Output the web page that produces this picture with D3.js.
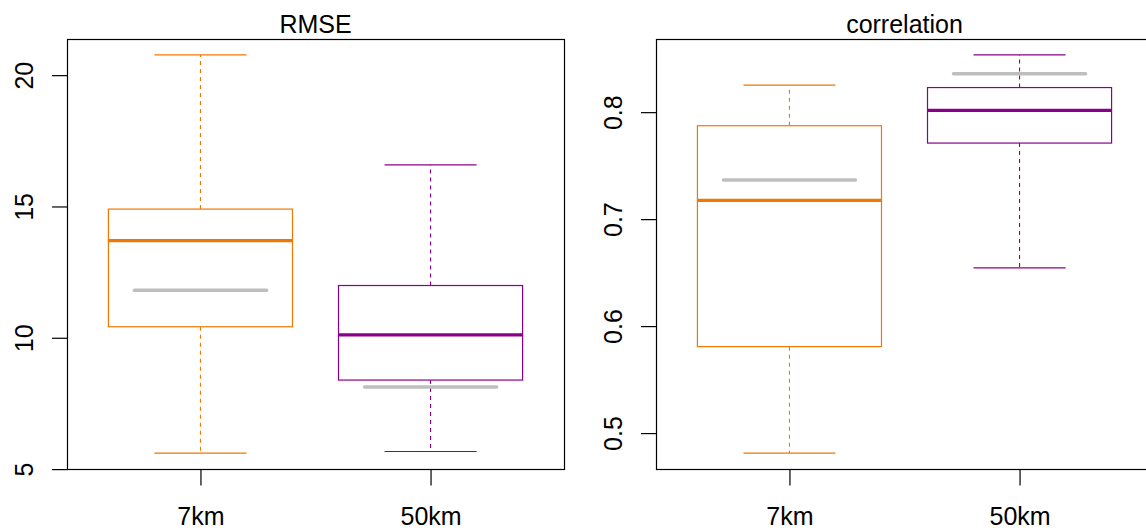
<!DOCTYPE html>
<html>
<head>
<meta charset="utf-8">
<script src="https://cdn.jsdelivr.net/npm/d3@7"></script>
<style>
  html, body { margin: 0; padding: 0; background: #ffffff; }
  svg { display: block; }
  text { font-family: "Liberation Sans", Arial, Helvetica, sans-serif; fill: #000; }
</style>
</head>
<body>
<svg id="chart" width="1146" height="528"></svg>
<script>
// Groups shown on the x axis
const categories = ["7km", "50km"];
const groupColors = ["#ef7800", "#8b008b"];

// Box statistics per group: [lower whisker, Q1, median, Q3, upper whisker]
const rmseStats = [
  [5.61, 10.42, 13.70, 14.90, 20.77],
  [5.67, 8.39, 10.11, 11.99, 16.58]
];
// Reference value per group (grey bar)
const rmseRef = [11.81, 8.13];
const rmseTicks = [5, 10, 15, 20];

const corStats = [
  [0.4813, 0.5808, 0.7176, 0.7873, 0.8252],
  [0.6545, 0.7711, 0.8016, 0.8230, 0.8535]
];
const corRef = [0.7366, 0.8358];
const corTicks = [0.5, 0.6, 0.7, 0.8];

const svg = d3.select("#chart");
const plotTop = 39, plotBottom = 469, panelW = 497;

function panel(x0, title, stats, refs, ticks, tickFmt) {
  const g = svg.append("g");

  // y domain padded by 4% of the data range on each side
  const all = stats.flat().concat(refs);
  const lo = d3.min(all), hi = d3.max(all), pad = 0.04 * (hi - lo);
  const y = d3.scaleLinear().domain([lo - pad, hi + pad]).range([plotBottom, plotTop]);
  const x = d3.scaleLinear().domain([0.42, 2.58]).range([x0, x0 + panelW]);

  const boxHalf = 0.4, capHalf = 0.2, refHalf = 0.287;

  categories.forEach((c, i) => {
    const [wl, q1, med, q3, wh] = stats[i];
    const cx = x(i + 1);
    const col = groupColors[i];
    const span = (h) => x(i + 1 + h) - cx;

    // dashed whiskers
    g.append("line").attr("x1", cx).attr("x2", cx).attr("y1", y(q3)).attr("y2", y(wh))
      .attr("stroke", col).attr("stroke-width", 1.1).attr("stroke-dasharray", "4,4");
    g.append("line").attr("x1", cx).attr("x2", cx).attr("y1", y(q1)).attr("y2", y(wl))
      .attr("stroke", col).attr("stroke-width", 1.1).attr("stroke-dasharray", "4,4");
    // whisker caps
    [wl, wh].forEach(v => {
      g.append("line").attr("x1", cx - span(capHalf)).attr("x2", cx + span(capHalf))
        .attr("y1", y(v)).attr("y2", y(v))
        .attr("stroke", col).attr("stroke-width", 1.2);
    });
    // box
    g.append("rect").attr("x", cx - span(boxHalf)).attr("width", 2 * span(boxHalf))
      .attr("y", y(q3)).attr("height", y(q1) - y(q3))
      .attr("fill", "#ffffff").attr("stroke", col).attr("stroke-width", 1.2);
    // median
    g.append("line").attr("x1", cx - span(boxHalf)).attr("x2", cx + span(boxHalf))
      .attr("y1", y(med)).attr("y2", y(med))
      .attr("stroke", col).attr("stroke-width", 3.2);
  });

  // grey reference bars
  g.selectAll("line.ref").data(refs).join("line").attr("class", "ref")
    .attr("x1", (d, i) => x(i + 1 - refHalf)).attr("x2", (d, i) => x(i + 1 + refHalf))
    .attr("y1", d => y(d)).attr("y2", d => y(d))
    .attr("stroke", "#bebebe").attr("stroke-width", 3.5).attr("stroke-linecap", "round");

  // plot frame
  g.append("rect").attr("x", x0 + 0.5).attr("y", plotTop + 0.5)
    .attr("width", panelW).attr("height", plotBottom - plotTop)
    .attr("fill", "none").attr("stroke", "#000").attr("stroke-width", 1.2);

  // y axis
  const ya = g.append("g").attr("transform", `translate(${x0 + 0.5},0)`)
    .call(d3.axisLeft(y).tickValues(ticks).tickSize(15.5).tickFormat(tickFmt));
  ya.select(".domain").remove();
  ya.selectAll(".tick line").attr("stroke", "#000").attr("stroke-width", 1.2);
  ya.selectAll(".tick text")
    .attr("transform", "rotate(-90)")
    .attr("x", 0).attr("y", -35).attr("dy", 0)
    .attr("text-anchor", "middle")
    .style("font-size", "25px").style("font-family", "\"Liberation Sans\", Arial, sans-serif");

  // x axis
  const xa = g.append("g").attr("transform", `translate(0,${plotBottom + 0.5})`)
    .call(d3.axisBottom(x).tickValues([1, 2]).tickSize(16).tickFormat((d) => categories[d - 1]));
  xa.select(".domain").remove();
  xa.selectAll(".tick line").attr("stroke", "#000").attr("stroke-width", 1.2);
  xa.selectAll(".tick text").attr("y", 55).attr("dy", 0)
    .style("font-size", "25px").style("font-family", "\"Liberation Sans\", Arial, sans-serif");

  // title
  g.append("text").attr("x", x0 + panelW / 2).attr("y", 33)
    .attr("text-anchor", "middle").style("font-size", "25px").text(title);
}

panel(67, "RMSE", rmseStats, rmseRef, rmseTicks, d3.format("d"));
panel(656, "correlation", corStats, corRef, corTicks, d3.format(".1f"));
</script>
</body>
</html>
